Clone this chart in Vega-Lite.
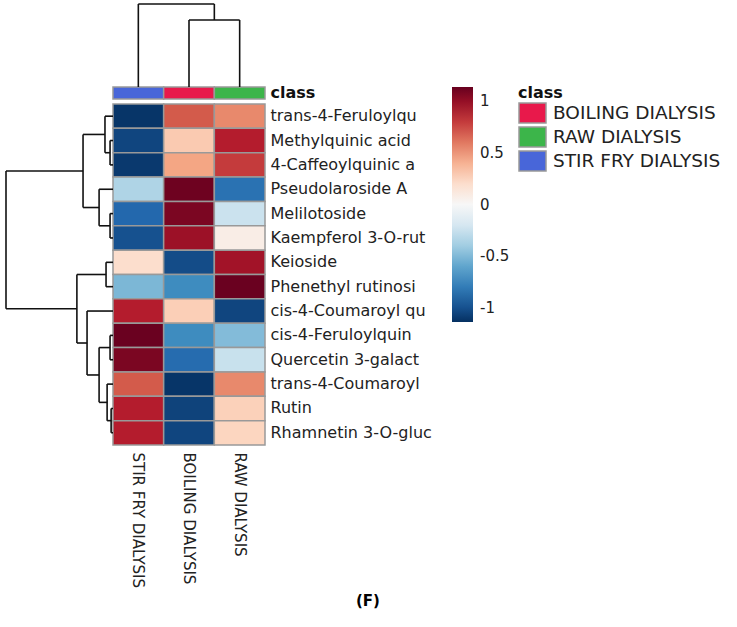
{
  "$schema": "https://vega.github.io/schema/vega-lite/v6.json",
  "width": 152,
  "height": 341,
  "autosize": {"type": "none"},
  "padding": {"left": 113, "top": 104, "right": 472, "bottom": 182},
  "background": "white",
  "config": {"view": {"stroke": null}, "font": "DejaVu Sans", "axis": {"grid": false}},
  "title": {"text": "(F)", "orient": "bottom", "frame": "group", "anchor": "start", "dx": 243, "offset": 6, "fontSize": 15, "fontWeight": "bold", "font": "DejaVu Sans", "color": "#000"},
  "datasets": {
    "heat": [
      {"compound": "trans-4-Feruloylqu", "sample": "STIR FRY DIALYSIS", "z": -1.12},
      {"compound": "trans-4-Feruloylqu", "sample": "BOILING DIALYSIS", "z": 0.7},
      {"compound": "trans-4-Feruloylqu", "sample": "RAW DIALYSIS", "z": 0.55},
      {"compound": "Methylquinic acid", "sample": "STIR FRY DIALYSIS", "z": -1.05},
      {"compound": "Methylquinic acid", "sample": "BOILING DIALYSIS", "z": 0.3},
      {"compound": "Methylquinic acid", "sample": "RAW DIALYSIS", "z": 0.9},
      {"compound": "4-Caffeoylquinic a", "sample": "STIR FRY DIALYSIS", "z": -1.1},
      {"compound": "4-Caffeoylquinic a", "sample": "BOILING DIALYSIS", "z": 0.45},
      {"compound": "4-Caffeoylquinic a", "sample": "RAW DIALYSIS", "z": 0.8},
      {"compound": "Pseudolaroside A", "sample": "STIR FRY DIALYSIS", "z": -0.35},
      {"compound": "Pseudolaroside A", "sample": "BOILING DIALYSIS", "z": 1.12},
      {"compound": "Pseudolaroside A", "sample": "RAW DIALYSIS", "z": -0.85},
      {"compound": "Melilotoside", "sample": "STIR FRY DIALYSIS", "z": -0.9},
      {"compound": "Melilotoside", "sample": "BOILING DIALYSIS", "z": 1.08},
      {"compound": "Melilotoside", "sample": "RAW DIALYSIS", "z": -0.25},
      {"compound": "Kaempferol 3-O-rut", "sample": "STIR FRY DIALYSIS", "z": -1.0},
      {"compound": "Kaempferol 3-O-rut", "sample": "BOILING DIALYSIS", "z": 0.98},
      {"compound": "Kaempferol 3-O-rut", "sample": "RAW DIALYSIS", "z": 0.08},
      {"compound": "Keioside", "sample": "STIR FRY DIALYSIS", "z": 0.2},
      {"compound": "Keioside", "sample": "BOILING DIALYSIS", "z": -1.02},
      {"compound": "Keioside", "sample": "RAW DIALYSIS", "z": 0.96},
      {"compound": "Phenethyl rutinosi", "sample": "STIR FRY DIALYSIS", "z": -0.52},
      {"compound": "Phenethyl rutinosi", "sample": "BOILING DIALYSIS", "z": -0.72},
      {"compound": "Phenethyl rutinosi", "sample": "RAW DIALYSIS", "z": 1.13},
      {"compound": "cis-4-Coumaroyl qu", "sample": "STIR FRY DIALYSIS", "z": 0.9},
      {"compound": "cis-4-Coumaroyl qu", "sample": "BOILING DIALYSIS", "z": 0.28},
      {"compound": "cis-4-Coumaroyl qu", "sample": "RAW DIALYSIS", "z": -1.05},
      {"compound": "cis-4-Feruloylquin", "sample": "STIR FRY DIALYSIS", "z": 1.13},
      {"compound": "cis-4-Feruloylquin", "sample": "BOILING DIALYSIS", "z": -0.72},
      {"compound": "cis-4-Feruloylquin", "sample": "RAW DIALYSIS", "z": -0.5},
      {"compound": "Quercetin 3-galact", "sample": "STIR FRY DIALYSIS", "z": 1.08},
      {"compound": "Quercetin 3-galact", "sample": "BOILING DIALYSIS", "z": -0.88},
      {"compound": "Quercetin 3-galact", "sample": "RAW DIALYSIS", "z": -0.26},
      {"compound": "trans-4-Coumaroyl", "sample": "STIR FRY DIALYSIS", "z": 0.7},
      {"compound": "trans-4-Coumaroyl", "sample": "BOILING DIALYSIS", "z": -1.12},
      {"compound": "trans-4-Coumaroyl", "sample": "RAW DIALYSIS", "z": 0.55},
      {"compound": "Rutin", "sample": "STIR FRY DIALYSIS", "z": 0.9},
      {"compound": "Rutin", "sample": "BOILING DIALYSIS", "z": -1.06},
      {"compound": "Rutin", "sample": "RAW DIALYSIS", "z": 0.27},
      {"compound": "Rhamnetin 3-O-gluc", "sample": "STIR FRY DIALYSIS", "z": 0.9},
      {"compound": "Rhamnetin 3-O-gluc", "sample": "BOILING DIALYSIS", "z": -1.05},
      {"compound": "Rhamnetin 3-O-gluc", "sample": "RAW DIALYSIS", "z": 0.25}
    ],
    "cls": [
      {"sample": "STIR FRY DIALYSIS", "annotation": "class"},
      {"sample": "BOILING DIALYSIS", "annotation": "class"},
      {"sample": "RAW DIALYSIS", "annotation": "class"}
    ],
    "rowtree": [
      {"h1": 0, "h2": 0.11, "p1": 1.5, "p2": 1.5},
      {"h1": 0, "h2": 0.11, "p1": 2.5, "p2": 2.5},
      {"h1": 0.11, "h2": 0.11, "p1": 1.5, "p2": 2.5},
      {"h1": 0, "h2": 0.3, "p1": 0.5, "p2": 0.5},
      {"h1": 0.11, "h2": 0.3, "p1": 2.0, "p2": 2.0},
      {"h1": 0.3, "h2": 0.3, "p1": 0.5, "p2": 2.0},
      {"h1": 0, "h2": 0.11, "p1": 4.5, "p2": 4.5},
      {"h1": 0, "h2": 0.11, "p1": 5.5, "p2": 5.5},
      {"h1": 0.11, "h2": 0.11, "p1": 4.5, "p2": 5.5},
      {"h1": 0, "h2": 0.52, "p1": 3.5, "p2": 3.5},
      {"h1": 0.11, "h2": 0.52, "p1": 5.0, "p2": 5.0},
      {"h1": 0.52, "h2": 0.52, "p1": 3.5, "p2": 5.0},
      {"h1": 0.3, "h2": 1.12, "p1": 1.25, "p2": 1.25},
      {"h1": 0.52, "h2": 1.12, "p1": 4.25, "p2": 4.25},
      {"h1": 1.12, "h2": 1.12, "p1": 1.25, "p2": 4.25},
      {"h1": 0, "h2": 0.26, "p1": 6.5, "p2": 6.5},
      {"h1": 0, "h2": 0.26, "p1": 7.5, "p2": 7.5},
      {"h1": 0.26, "h2": 0.26, "p1": 6.5, "p2": 7.5},
      {"h1": 0, "h2": 0.11, "p1": 9.5, "p2": 9.5},
      {"h1": 0, "h2": 0.11, "p1": 10.5, "p2": 10.5},
      {"h1": 0.11, "h2": 0.11, "p1": 9.5, "p2": 10.5},
      {"h1": 0, "h2": 0.07, "p1": 12.5, "p2": 12.5},
      {"h1": 0, "h2": 0.07, "p1": 13.5, "p2": 13.5},
      {"h1": 0.07, "h2": 0.07, "p1": 12.5, "p2": 13.5},
      {"h1": 0, "h2": 0.22, "p1": 11.5, "p2": 11.5},
      {"h1": 0.07, "h2": 0.22, "p1": 13.0, "p2": 13.0},
      {"h1": 0.22, "h2": 0.22, "p1": 11.5, "p2": 13.0},
      {"h1": 0.11, "h2": 0.52, "p1": 10.0, "p2": 10.0},
      {"h1": 0.22, "h2": 0.52, "p1": 12.25, "p2": 12.25},
      {"h1": 0.52, "h2": 0.52, "p1": 10.0, "p2": 12.25},
      {"h1": 0, "h2": 0.97, "p1": 8.5, "p2": 8.5},
      {"h1": 0.52, "h2": 0.97, "p1": 11.125, "p2": 11.125},
      {"h1": 0.97, "h2": 0.97, "p1": 8.5, "p2": 11.125},
      {"h1": 0.26, "h2": 1.35, "p1": 7.0, "p2": 7.0},
      {"h1": 0.97, "h2": 1.35, "p1": 9.8125, "p2": 9.8125},
      {"h1": 1.35, "h2": 1.35, "p1": 7.0, "p2": 9.8125},
      {"h1": 1.12, "h2": 4.0, "p1": 2.75, "p2": 2.75},
      {"h1": 1.35, "h2": 4.0, "p1": 8.406, "p2": 8.406},
      {"h1": 4.0, "h2": 4.0, "p1": 2.75, "p2": 8.406}
    ],
    "coltree": [
      {"p1": 1.5, "p2": 1.5, "h1": 0, "h2": 1.614},
      {"p1": 2.5, "p2": 2.5, "h1": 0, "h2": 1.614},
      {"p1": 1.5, "p2": 2.5, "h1": 1.614, "h2": 1.614},
      {"p1": 0.5, "p2": 0.5, "h1": 0, "h2": 2.0},
      {"p1": 2.0, "p2": 2.0, "h1": 1.614, "h2": 2.0},
      {"p1": 0.5, "p2": 2.0, "h1": 2.0, "h2": 2.0}
    ]
  },
  "layer": [
    {
      "data": {"name": "heat"},
      "mark": {"type": "rect", "stroke": "#999", "strokeWidth": 1.5},
      "encoding": {
        "x": {"field": "sample", "type": "nominal", "sort": ["STIR FRY DIALYSIS", "BOILING DIALYSIS", "RAW DIALYSIS"], "scale": {"paddingInner": 0, "paddingOuter": 0},
          "axis": {"orient": "bottom", "title": null, "labelAngle": 90, "labelAlign": "left", "labelBaseline": "middle", "ticks": false, "domain": false, "labelPadding": 7, "labelFontSize": 15, "labelFont": "DejaVu Sans", "labelColor": "#222", "labelLimit": 0}},
        "y": {"field": "compound", "type": "nominal", "sort": ["trans-4-Feruloylqu", "Methylquinic acid", "4-Caffeoylquinic a", "Pseudolaroside A", "Melilotoside", "Kaempferol 3-O-rut", "Keioside", "Phenethyl rutinosi", "cis-4-Coumaroyl qu", "cis-4-Feruloylquin", "Quercetin 3-galact", "trans-4-Coumaroyl", "Rutin", "Rhamnetin 3-O-gluc"], "scale": {"paddingInner": 0, "paddingOuter": 0},
          "axis": {"orient": "right", "title": null, "ticks": false, "domain": false, "labelPadding": 5, "labelFontSize": 16, "labelFont": "DejaVu Sans", "labelColor": "#222", "labelLimit": 0, "labelAlign": "left"}},
        "color": {"field": "z", "type": "quantitative",
          "scale": {"type": "linear", "interpolate": "rgb", "domain": [-1.14, -0.912, -0.684, -0.456, -0.228, 0, 0.228, 0.456, 0.684, 0.912, 1.14], "range": ["#053061", "#2166ac", "#4393c3", "#92c5de", "#d1e5f0", "#f7f7f7", "#fddbc7", "#f4a582", "#d6604d", "#b2182b", "#67001f"]},
          "legend": {"orient": "none", "legendX": 339, "legendY": -17, "direction": "vertical", "gradientLength": 235, "gradientThickness": 21, "title": null, "values": [1, 0.5, 0, -0.5, -1], "labelFontSize": 15, "labelFont": "DejaVu Sans", "labelColor": "#222", "labelOffset": 7, "gradientStrokeWidth": 0, "padding": 0, "labelExpr": "datum.value < 0 ? '-' + format(-datum.value, '') : format(datum.value, '')"}}
      }
    },
    {
      "data": {"name": "cls"},
      "mark": {"type": "rect", "stroke": "#999", "strokeWidth": 1.5},
      "encoding": {
        "x": {"field": "sample", "type": "nominal", "sort": ["STIR FRY DIALYSIS", "BOILING DIALYSIS", "RAW DIALYSIS"], "scale": {"paddingInner": 0, "paddingOuter": 0}, "axis": null},
        "y": {"field": "annotation", "type": "nominal", "scale": {"range": [-17, -5], "paddingInner": 0, "paddingOuter": 0},
          "axis": {"orient": "right", "title": null, "ticks": false, "domain": false, "labelPadding": 5, "labelFontSize": 16, "labelFontWeight": "bold", "labelFont": "DejaVu Sans", "labelColor": "#111", "labelAlign": "left"}},
        "fill": {"field": "sample", "type": "nominal", "scale": {"domain": ["BOILING DIALYSIS", "RAW DIALYSIS", "STIR FRY DIALYSIS"], "range": ["#e8194b", "#3cb54a", "#4866d9"]},
          "legend": {"orient": "none", "legendX": 405, "legendY": -19, "title": "class", "titleFontSize": 16, "titleFontWeight": "bold", "titleFont": "DejaVu Sans", "titleColor": "#111", "titlePadding": 1, "symbolType": "M-1,-1H1.7V1H-1Z", "symbolSize": 400, "symbolStrokeColor": "#999", "symbolStrokeWidth": 1.5, "symbolOpacity": 1, "labelFontSize": 18.5, "labelFont": "DejaVu Sans", "labelColor": "#222", "labelOffset": 13, "rowPadding": -4, "padding": 0, "labelLimit": 0}}
      }
    },
    {
      "data": {"name": "rowtree"},
      "mark": {"type": "rule", "color": "#111", "strokeWidth": 1.6},
      "encoding": {
        "x": {"field": "h1", "type": "quantitative", "scale": {"domain": [0, 4], "range": [0, -107], "nice": false, "zero": false}, "axis": null},
        "x2": {"field": "h2"},
        "y": {"field": "p1", "type": "quantitative", "scale": {"domain": [0, 14], "range": [0, 341], "nice": false, "zero": false}, "axis": null},
        "y2": {"field": "p2"}
      }
    },
    {
      "data": {"name": "coltree"},
      "mark": {"type": "rule", "color": "#111", "strokeWidth": 1.6},
      "encoding": {
        "x": {"field": "p1", "type": "quantitative", "scale": {"domain": [0, 3], "range": [0, 152], "nice": false, "zero": false}, "axis": null},
        "x2": {"field": "p2"},
        "y": {"field": "h1", "type": "quantitative", "scale": {"domain": [0, 2], "range": [-17, -100], "nice": false, "zero": false}, "axis": null},
        "y2": {"field": "h2"}
      }
    }
  ],
  "resolve": {"scale": {"x": "independent", "y": "independent"}, "axis": {"x": "independent", "y": "independent"}}
}
